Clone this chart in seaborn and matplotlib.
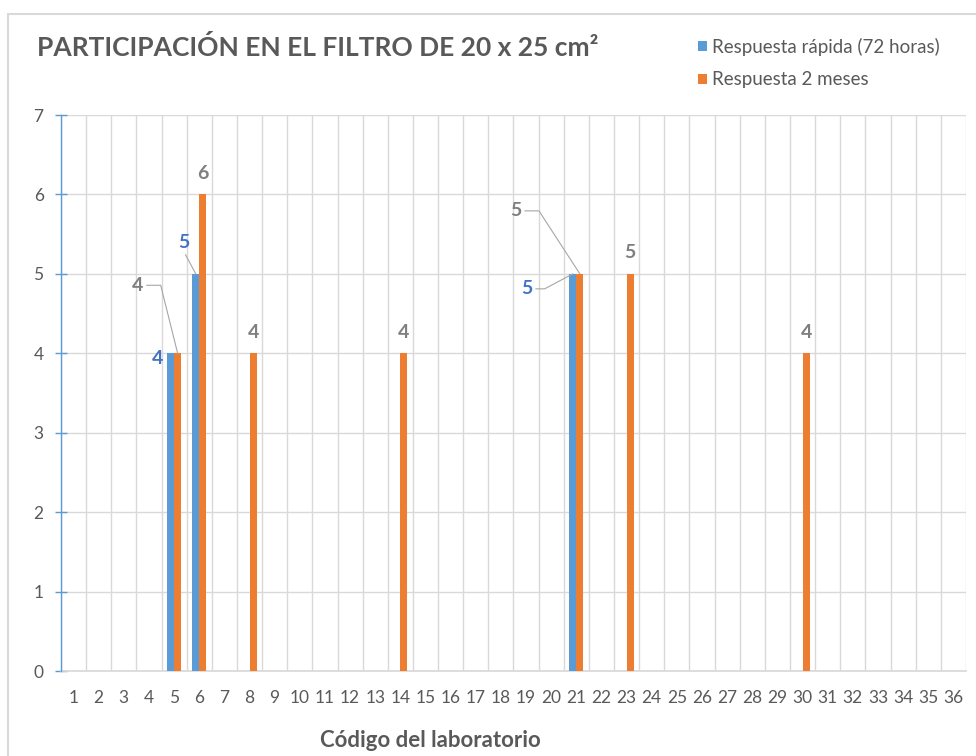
import numpy as np
import pandas as pd
import matplotlib.pyplot as plt
from matplotlib.lines import Line2D
import seaborn as sns

# Datos del grafico
codigos = list(range(1, 37))
rapida_codigos = [5, 6, 21]
rapida_valores = [4, 5, 5]
meses_codigos = [5, 6, 8, 14, 21, 23, 30]
meses_valores = [4, 6, 4, 4, 5, 5, 4]
serie_rapida = "Respuesta rápida (72 horas)"
serie_meses = "Respuesta 2 meses"

azul = "#5B9BD5"
naranja = "#ED7D31"
gris_texto = "#595959"
gris_linea = "#D9D9D9"

# Tabla larga con todos los codigos (NaN donde no hay barra)
rap = dict(zip(rapida_codigos, rapida_valores))
mes = dict(zip(meses_codigos, meses_valores))
df = pd.DataFrame({
    "Codigo": [str(c) for c in codigos] * 2,
    "Valor": [rap.get(c, np.nan) for c in codigos] + [mes.get(c, np.nan) for c in codigos],
    "Serie": [serie_rapida] * len(codigos) + [serie_meses] * len(codigos),
})

sns.set_theme(style="white")
plt.rcParams["font.family"] = ["Lato", "DejaVu Sans"]

fig = plt.figure(figsize=(9.76, 7.56), dpi=100)
ax = fig.add_axes([61 / 976, 1 - 671 / 756, 905 / 976, 556 / 756])

sns.barplot(data=df, x="Codigo", y="Valor", hue="Serie", order=[str(c) for c in codigos],
            hue_order=[serie_rapida, serie_meses], palette=[azul, naranja], saturation=1,
            width=0.56, errorbar=None, ax=ax, zorder=3, linewidth=0)

ax.set_xlim(-0.5, len(codigos) - 0.5)
ax.set_ylim(0, 7)
ax.set_yticks(range(0, 8))

# Rejilla: horizontales en cada entero, verticales entre categorias
ax.set_xticks(np.arange(-0.5, len(codigos)), minor=True)
ax.grid(axis="y", which="major", color=gris_linea, lw=1, zorder=0)
ax.grid(axis="x", which="minor", color=gris_linea, lw=1, zorder=0)
ax.grid(axis="x", which="major", visible=False)
ax.set_axisbelow(True)

for s in ["top", "right"]:
    ax.spines[s].set_visible(False)
ax.spines["bottom"].set_color(gris_linea)
ax.spines["left"].set_color(azul)
ax.spines["left"].set_linewidth(1)
ax.spines["left"].set_zorder(4)

ax.tick_params(axis="x", which="both", length=0, pad=14, labelsize=12.5, labelcolor=gris_texto)
ax.tick_params(axis="y", direction="inout", length=9, width=1, color=azul, pad=8,
               labelsize=12.5, labelcolor=gris_texto, left=True)

ax.set_ylabel("")
ax.set_xlabel("Código del laboratorio", fontsize=16, fontweight="bold", color=gris_texto)
ax.xaxis.set_label_coords((430 - 61) / 905, -(730 - 671) / 556)

# Leyenda arriba a la derecha
handles, labels = ax.get_legend_handles_labels()
ax.legend(handles, labels, loc="upper left", bbox_to_anchor=(690 / 976, 1 - 30 / 756),
          bbox_transform=fig.transFigure, frameon=False, fontsize=13.5,
          labelcolor=gris_texto, handlelength=0.5, handleheight=0.5,
          handletextpad=0.3, labelspacing=0.85, borderaxespad=0)

# Etiquetas de datos (desplazamientos en pixeles)
lineas = dict(arrowstyle="-", color="#A6A6A6", lw=0.8, shrinkA=0, shrinkB=0)
etiq_rapida = {5: (-13, -5, None), 6: (-12, 31, "recta"), 21: (-46, -15, 28)}
etiq_meses = {5: (-40, 68, 104), 21: (-64, 63, 123)}

for cont, serie in zip(ax.containers, [serie_rapida, serie_meses]):
    color_txt = "#4472C4" if serie == serie_rapida else "#7F7F7F"
    ajustes = etiq_rapida if serie == serie_rapida else etiq_meses
    for bar in cont:
        h = bar.get_height()
        if np.isnan(h) or h == 0:
            continue
        xc = bar.get_x() + bar.get_width() / 2
        cod = codigos[int(round(xc))]
        dx, dy, lider = ajustes.get(cod, (0, 21, None))
        kw = {}
        if lider == "recta":
            kw["arrowprops"] = dict(lineas, relpos=(0.5, 0.0))
        elif lider is not None:
            kw["arrowprops"] = dict(lineas, relpos=(1.0, 0.5),
                                    connectionstyle=f"angle,angleA=0,angleB={lider},rad=0")
        ax.annotate(f"{int(h)}", xy=(xc, h), xytext=(dx, dy), textcoords="offset pixels",
                    ha="center", va="center", fontsize=14, fontweight="bold",
                    color=color_txt, zorder=5, annotation_clip=False, **kw)

# Titulo
fig.text(37 / 976, 1 - 47 / 756, "PARTICIPACIÓN EN EL FILTRO DE 20 x 25 cm²",
         ha="left", va="center", fontsize=19, fontweight="bold", color=gris_texto)

# Marco del grafico
fig.add_artist(Line2D([8 / 976, 8 / 976], [0, 1 - 14 / 756], transform=fig.transFigure,
                      color=gris_linea, lw=1.5))
fig.add_artist(Line2D([8 / 976, 1], [1 - 14 / 756, 1 - 14 / 756], transform=fig.transFigure,
                      color=gris_linea, lw=1.5))

fig.savefig("out.png", dpi=100)
